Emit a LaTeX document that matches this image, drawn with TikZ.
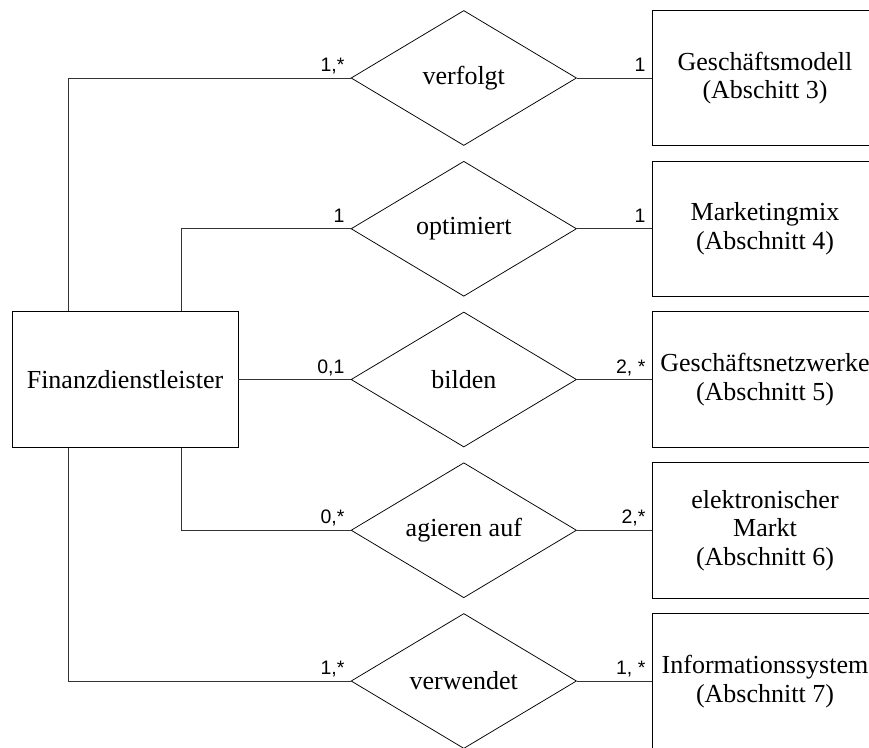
\documentclass[tikz,border=0pt]{standalone}
\usepackage{fontspec}
\setmainfont{Liberation Serif}
\newfontfamily\labfont{Liberation Sans}
\usetikzlibrary{shapes.geometric,calc}
\begin{document}
\begin{tikzpicture}[x=1pt,y=-1pt,
  ent/.style={draw=black,line width=0.9pt,rectangle,minimum width=226pt,minimum height=135.5pt,inner sep=0pt,align=center,font=\fontsize{26}{28.5}\selectfont},
  rel/.style={draw=black,line width=0.75pt,diamond,minimum width=225.5pt,minimum height=135pt,inner sep=0pt,shape aspect=1.67,font=\fontsize{26}{28.5}\selectfont},
  conn/.style={draw=black!80,line width=0.75pt},
  card/.style={inner sep=0pt,font=\labfont\fontsize{19.5}{22}\selectfont}]
\useasboundingbox (0,0) rectangle (869,747);
\clip (0,0) rectangle (869,747);
% main entity
\node[ent] (fin) at (125,379.5) {Finanzdienstleister};
% relationships
\node[rel] (d1) at (463.8,78) {verfolgt};
\node[rel] (d2) at (463.8,228.75) {optimiert};
\node[rel] (d3) at (463.8,379.5) {bilden};
\node[rel] (d4) at (463.8,530.25) {agieren auf};
\node[rel] (d5) at (463.8,681) {verwendet};
% entities on the right
\node[ent] (e1) at (765,78) {Geschäftsmodell\\(Abschitt 3)};
\node[ent] (e2) at (765,228.75) {Marketingmix\\(Abschnitt 4)};
\node[ent] (e3) at (765,379.5) {Geschäftsnetzwerke\\(Abschnitt 5)};
\node[ent] (e4) at (765,530.25) {elektronischer\\Markt\\(Abschnitt 6)};
\node[ent] (e5) at (765,681.5) {Informationssystem\\(Abschnitt 7)};
% left connectors
\draw[conn] (fin.north west) ++(56.6,0) |- (d1.west);
\draw[conn] (fin.north west) ++(169.6,0) |- (d2.west);
\draw[conn] (fin.east) -- (d3.west);
\draw[conn] (fin.south west) ++(169.6,0) |- (d4.west);
\draw[conn] (fin.south west) ++(56.6,0) |- (d5.west);
% right connectors
\draw[conn] (d1.east) -- (e1.west);
\draw[conn] (d2.east) -- (e2.west);
\draw[conn] (d3.east) -- (e3.west);
\draw[conn] (d4.east) -- (e4.west);
\draw[conn] (d5.east) -- (e5.west |- d5.east);
% cardinalities
\node[card,anchor=base east] (c1l) at ($(d1.west)+(-6,-6.5)$) {1,*};
\node[card,anchor=base east] (c2l) at ($(d2.west)+(-6,-6.5)$) {1};
\node[card,anchor=base east] (c3l) at ($(d3.west)+(-6,-6.5)$) {0,1};
\node[card,anchor=base east] (c4l) at ($(d4.west)+(-6,-6.5)$) {0,*};
\node[card,anchor=base east] (c5l) at ($(d5.west)+(-6,-6.5)$) {1,*};
\node[card,anchor=base east] (c1r) at ($(e1.west)+(-6,-6.5)$) {1};
\node[card,anchor=base east] (c2r) at ($(e2.west)+(-6,-6.5)$) {1};
\node[card,anchor=base east] (c3r) at ($(e3.west)+(-6,-6.5)$) {2, *};
\node[card,anchor=base east] (c4r) at ($(e4.west)+(-6,-6.5)$) {2,*};
\node[card,anchor=base east] (c5r) at ($(e5.west |- d5.east)+(-6,-6.5)$) {1, *};
\end{tikzpicture}
\end{document}
